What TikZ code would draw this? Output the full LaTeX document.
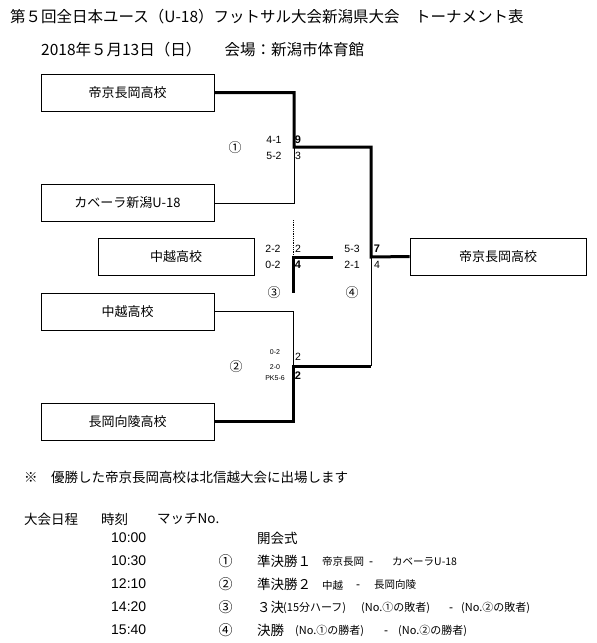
\documentclass[tikz,border=0pt]{standalone}
\usepackage{fontspec}
\setmainfont{Noto Sans CJK JP}
\newfontfamily\latin{Liberation Sans}
\begin{document}
\begin{tikzpicture}[x=1pt, y=-1pt,
  team/.style={draw, line width=0.8pt, minimum width=173pt, minimum height=37pt, inner sep=0pt, font=\fontsize{13}{13}\selectfont},
  winline/.style={line width=3pt},
  loseline/.style={line width=0.8pt},
  sc/.style={inner sep=0pt, font=\latin\fontsize{10.5}{10.5}\selectfont},
  scbold/.style={inner sep=0pt, font=\latin\bfseries\fontsize{11}{11}\selectfont},
  goals/.style={inner sep=0pt, font=\fontsize{13}{13}\selectfont},
  rowtxt/.style={inner sep=0pt, anchor=west, font=\fontsize{13.5}{13.5}\selectfont},
  timetxt/.style={inner sep=0pt, anchor=west, font=\latin\fontsize{14}{14}\selectfont},
  smtxt/.style={inner sep=0pt, anchor=west, font=\fontsize{10.5}{10.5}\selectfont},
  midtxt/.style={inner sep=0pt, anchor=west, font=\fontsize{11}{11}\selectfont},
  sep/.style={inner sep=0pt, anchor=west, text height=9pt, text depth=1.5pt, font=\latin\fontsize{12}{12}\selectfont}
]
  \useasboundingbox (0,0) rectangle (597,643);

  % Title
  \node[rowtxt, font=\fontsize{15.5}{15.5}\selectfont] (title) at (10,17)
    {第５回全日本ユース（U-18）フットサル大会新潟県大会　トーナメント表};
  \node[rowtxt, font=\fontsize{15.5}{15.5}\selectfont] (date) at (41,50)
    {2018年５月13日（日）\hspace{1.5em}会場：新潟市体育館};

  % Teams
  \node[team] (a1) at (127.5,92.5) {帝京長岡高校};
  \node[team] (a2) at (127.5,203) {カベーラ新潟U-18};
  \node[team, minimum width=156pt] (a3) at (176,256.5) {中越高校};
  \node[team] (a4) at (127.5,311.5) {中越高校};
  \node[team] (a5) at (127.5,421.5) {長岡向陵高校};
  \node[team, minimum width=176pt] (w) at (498,256.5) {帝京長岡高校};

  % Junctions
  \coordinate (m1) at (294,147);
  \coordinate (m2) at (293,366);
  \coordinate (m3) at (293,257);
  \coordinate (m4) at (371,257);
  \coordinate (m3top) at (293,220);
  \coordinate (m3r) at (333,257);
  \coordinate (m3b) at (293,293);

  % Match 1 and final
  \draw[winline] (a1.east) -| (m1) -| (m4) -- (w.west);
  \draw[loseline] (m1) |- (a2.east);

  % Match 2
  \draw[loseline] (a4.east) -| (m2);
  \draw[winline] (a5.east) -| (m2) -- (m2 -| m4);
  \draw[loseline] (m2 -| m4) -- (m4);

  % Match 3
  \draw[loseline, densely dotted] (m3top) -- (m3);
  \draw[winline] (m3r) -- (m3) -- (m3b);

  % Scores
  \node[goals] (c1) at (235,148) {①};
  \node[sc] (s1a) at (274,140) {4-1};
  \node[sc] (s1b) at (274,156) {5-2};
  \node[scbold] (g1a) at (298,140) {9};
  \node[sc] (g1b) at (298,156) {3};

  \node[sc] (s3a) at (273,249) {2-2};
  \node[sc] (s3b) at (273,265) {0-2};
  \node[sc] (g3a) at (298,249) {2};
  \node[scbold] (g3b) at (298,265) {4};
  \node[goals] (c3) at (274,293) {③};

  \node[sc] (s4a) at (352,249) {5-3};
  \node[sc] (s4b) at (352,265) {2-1};
  \node[scbold] (g4a) at (377,249) {7};
  \node[sc] (g4b) at (377,265) {4};
  \node[goals] (c4) at (352,293) {④};

  \node[goals] (c2) at (236,367) {②};
  \node[sc, font=\latin\fontsize{7}{7}\selectfont] (s2a) at (275,352) {0-2};
  \node[sc, font=\latin\fontsize{7}{7}\selectfont] (s2b) at (275,367) {2-0};
  \node[sc, font=\latin\fontsize{7}{7}\selectfont] (s2c) at (275,378.5) {PK5-6};
  \node[sc] (g2a) at (298,357) {2};
  \node[scbold] (g2b) at (298,376) {2};

  % Note
  \node[rowtxt] (note) at (24,477) {※　優勝した帝京長岡高校は北信越大会に出場します};

  % Schedule
  \node[rowtxt] (h1) at (24,519) {大会日程};
  \node[rowtxt] (h2) at (101,519) {時刻};
  \node[rowtxt] (h3) at (157,519) {マッチNo.};

  \node[timetxt] (t1) at (111,538) {10:00};
  \node[rowtxt] (e1) at (257,538) {開会式};

  \node[timetxt] (t2) at (111,561) {10:30};
  \node[goals, font=\fontsize{14}{14}\selectfont] (n2) at (225.5,561) {①};
  \node[rowtxt] (e2) at (257,561) {準決勝１};
  \node[smtxt] (e2a) at (322,562) {帝京長岡};
  \node[sep] (e2b) at (369,562) {-};
  \node[smtxt] (e2c) at (392,562) {カベーラU-18};

  \node[timetxt] (t3) at (111,584) {12:10};
  \node[goals, font=\fontsize{14}{14}\selectfont] (n3) at (225.5,584) {②};
  \node[rowtxt] (e3) at (257,584) {準決勝２};
  \node[smtxt] (e3a) at (322,585) {中越};
  \node[sep] (e3b) at (356,585) {-};
  \node[smtxt] (e3c) at (374,585) {長岡向陵};

  \node[timetxt] (t4) at (111,607) {14:20};
  \node[goals, font=\fontsize{14}{14}\selectfont] (n4) at (225.5,607) {③};
  \node[rowtxt] (e4) at (257,607) {３決};
  \node[midtxt] (e4a) at (283,608) {(15分ハーフ)};
  \node[midtxt] (e4b) at (361,608) {(No.①の敗者)};
  \node[sep] (e4c) at (449,608) {-};
  \node[midtxt] (e4d) at (461,608) {(No.②の敗者)};

  \node[timetxt] (t5) at (111,630) {15:40};
  \node[goals, font=\fontsize{14}{14}\selectfont] (n5) at (225.5,630) {④};
  \node[rowtxt] (e5) at (257,630) {決勝};
  \node[midtxt] (e5a) at (295,631) {(No.①の勝者)};
  \node[sep] (e5b) at (384,631) {-};
  \node[midtxt] (e5c) at (398,631) {(No.②の勝者)};
\end{tikzpicture}
\end{document}
